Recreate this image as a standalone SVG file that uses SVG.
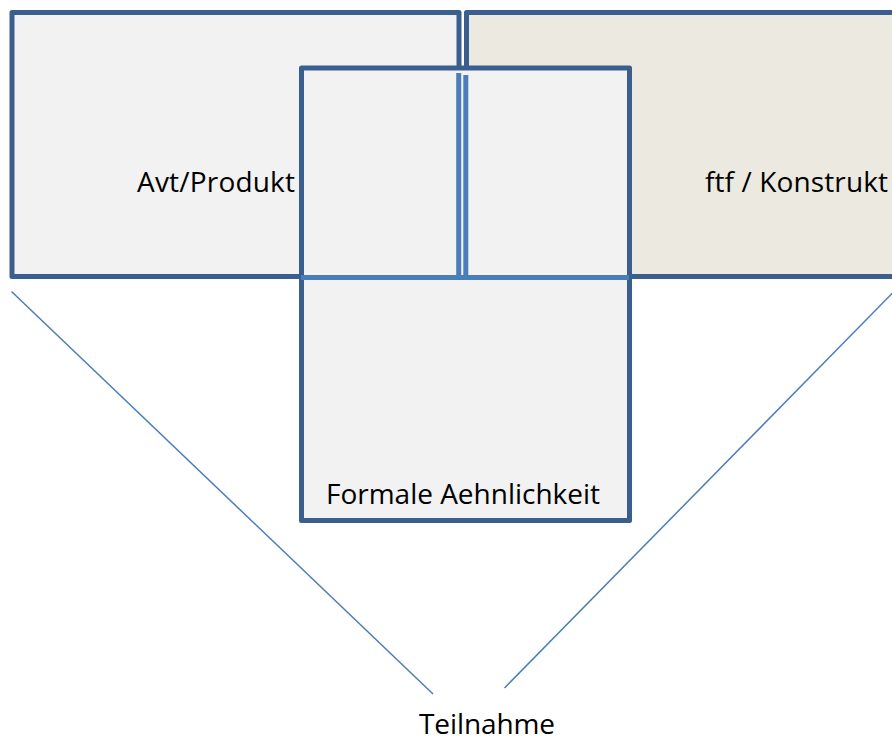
<svg xmlns="http://www.w3.org/2000/svg" width="892" height="740" viewBox="0 0 892 740">
<style>
.box{stroke:#3A5F8F;stroke-width:5;stroke-linejoin:round}
.inner{stroke:#4A7EBB;stroke-width:5;fill:none}
.conn{stroke:#4A7EBB;stroke-width:1.5;fill:none}
text{font-family:"Open Sans","Liberation Sans",sans-serif;font-size:28px;fill:#000}
</style>
<rect width="892" height="740" fill="#fff"/>
<g id="avt-produkt">
<rect class="box" x="12" y="12.5" width="447" height="264" fill="#F2F2F2"/>
<text x="137" y="192" textLength="158">Avt/Produkt</text>
</g>
<g id="ftf-konstrukt">
<rect class="box" x="466.5" y="12.5" width="440" height="264" fill="#ECEAE0"/>
<text x="705" y="192" textLength="183">ftf / Konstrukt</text>
</g>
<g id="formale-aehnlichkeit">
<rect class="box" x="301.5" y="68" width="328" height="452.5" fill="#F2F2F2"/>
<line class="inner" x1="458.7" y1="73" x2="458.7" y2="276"/>
<line class="inner" x1="465.8" y1="75" x2="465.8" y2="276"/>
<line class="inner" x1="301" y1="277.5" x2="629" y2="277.5"/>
<text x="326" y="504" textLength="274">Formale Aehnlichkeit</text>
</g>
<g id="teilnahme">
<text x="419" y="734" font-size="27" textLength="136">Teilnahme</text>
</g>
<g id="connectors">
<line class="conn" x1="11.5" y1="291.5" x2="433" y2="694"/>
<line class="conn" x1="893" y1="292.5" x2="504.5" y2="688"/>
</g>
</svg>
